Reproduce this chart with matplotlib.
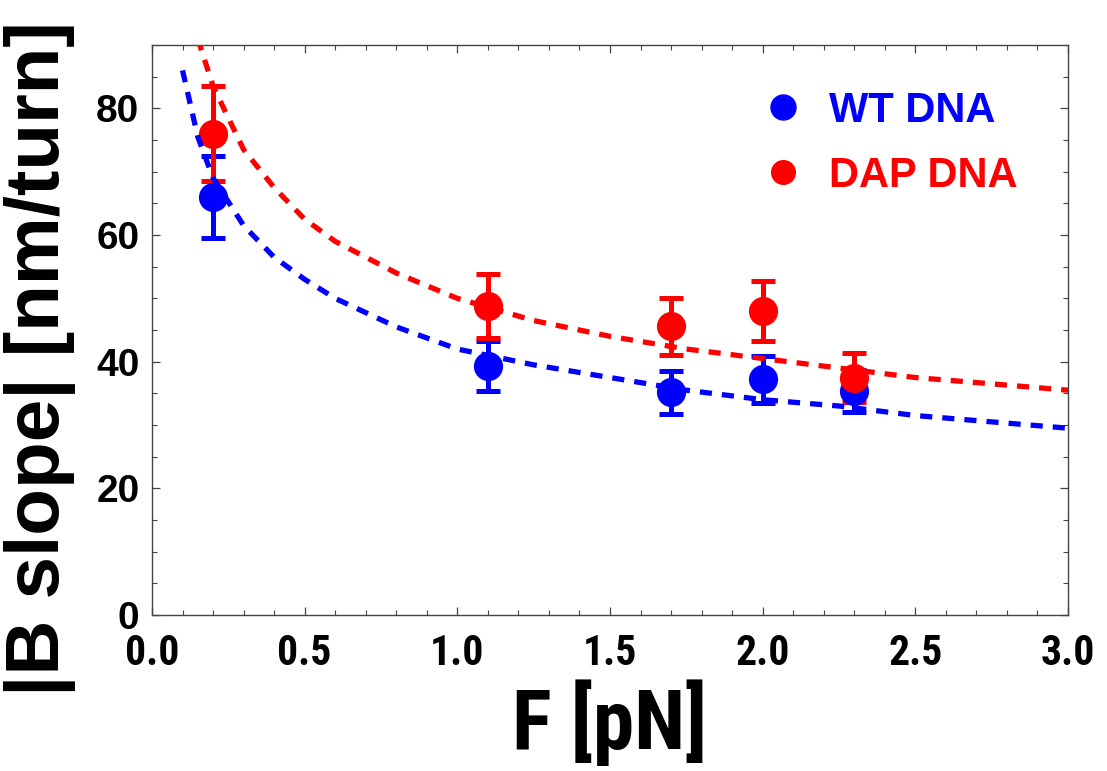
import matplotlib.pyplot as plt
from matplotlib.lines import Line2D
from matplotlib.ticker import MultipleLocator
from matplotlib import font_manager as fm

# measured points
force = [0.2, 1.1, 1.7, 2.0, 2.3]
wt_slope = [66.0, 39.3, 35.2, 37.2, 35.4]
wt_err = [6.5, 4.0, 3.4, 3.7, 3.3]
dap_slope = [76.0, 48.8, 45.6, 48.0, 37.5]
dap_err = [7.5, 5.0, 4.5, 4.8, 3.9]

# fit curves
wt_fit_x = [0.1, 0.15, 0.2, 0.3, 0.4, 0.5, 0.6, 0.8, 1.0, 1.25, 1.5, 1.75, 2.0, 2.25, 2.5, 2.75, 3.0]
wt_fit_y = [86.0, 75.5, 69.0, 61.5, 56.5, 53.0, 50.0, 45.5, 42.0, 39.5, 37.5, 35.5, 34.0, 33.0, 31.5, 30.5, 29.5]
dap_fit_x = [0.15, 0.2, 0.25, 0.3, 0.4, 0.5, 0.6, 0.8, 1.0, 1.25, 1.5, 1.75, 2.0, 2.25, 2.5, 2.75, 3.0]
dap_fit_y = [91.0, 83.5, 78.5, 73.5, 67.5, 62.5, 59.0, 54.0, 50.0, 46.5, 44.0, 42.0, 40.5, 39.0, 37.5, 36.5, 35.5]

# pick a narrow bold font for the x axis if one is around
fonts = fm.fontManager.ttflist
names = {f.name for f in fonts}
narrow_kw = dict(family=['Liberation Sans', 'DejaVu Sans'])
if 'Liberation Sans Narrow' in names:
    narrow_kw = dict(family=['Liberation Sans Narrow', 'DejaVu Sans'])
elif 'Roboto Condensed' in names:
    narrow_kw = dict(family=['Roboto Condensed', 'DejaVu Sans'])
elif any(f.name == 'DejaVu Sans' and f.stretch in ('condensed', 'semi-condensed') for f in fonts):
    narrow_kw = dict(family=['DejaVu Sans'], stretch='condensed')
wide = ['Liberation Sans', 'DejaVu Sans']

fig = plt.figure(figsize=(11.07, 7.71), dpi=100)
ax = fig.add_axes([0.1373, 0.2023, 0.8275, 0.7393])

err_kw = dict(fmt='o', markersize=20, elinewidth=3.6, capsize=8.6, capthick=3.6, zorder=2)
ax.errorbar(force, wt_slope, yerr=wt_err, color='#0000ff', **err_kw)
ax.errorbar(force, dap_slope, yerr=dap_err, color='#ff0000', **err_kw)

ax.plot(wt_fit_x, wt_fit_y, color='#0000ff', lw=3.8, ls=(0, (2.3, 1.9)), zorder=3)
ax.plot(dap_fit_x, dap_fit_y, color='#ff0000', lw=3.8, ls=(0, (2.3, 1.9)), zorder=3)

ax.set_xlim(0, 3.0)
ax.set_ylim(0, 90)
ax.xaxis.set_major_locator(MultipleLocator(0.5))
ax.xaxis.set_minor_locator(MultipleLocator(0.1))
ax.yaxis.set_major_locator(MultipleLocator(20))
ax.yaxis.set_minor_locator(MultipleLocator(5))
ax.tick_params(which='both', direction='in', top=True, right=True, color='#444444')
ax.tick_params(which='major', length=6, width=0.9)
ax.tick_params(which='minor', length=3.5, width=0.8)
ax.tick_params(axis='x', pad=13)
ax.tick_params(axis='y', pad=9)
for s in ax.spines.values():
    s.set_color('#444444')
    s.set_linewidth(1.0)

for t in ax.get_xticklabels():
    t.update(narrow_kw)
    t.set_fontweight('bold')
    t.set_fontsize(30)
for t in ax.get_yticklabels():
    t.set_fontfamily(wide)
    t.set_fontweight('bold')
    t.set_fontsize(28)

ax.set_xlabel('F [pN]', fontsize=60, fontweight='bold', labelpad=4, **narrow_kw)
ax.set_ylabel('|B slope| [nm/turn]', fontsize=55, fontweight='bold', family=wide)
ax.yaxis.set_label_coords(-0.083, 0.45)

handles = [Line2D([], [], marker='o', ls='none', color='#0000ff', markersize=18),
           Line2D([], [], marker='o', ls='none', color='#ff0000', markersize=17)]
ax.legend(handles, ['WT DNA', 'DAP DNA'], loc='upper left', bbox_to_anchor=(0.63, 0.985),
          frameon=False, labelcolor=['#0000ff', '#ff0000'], handlelength=0.8, handletextpad=0.7,
          labelspacing=0.6, prop={'family': wide, 'weight': 'bold', 'size': 30})

plt.savefig('out.png', dpi=100)
